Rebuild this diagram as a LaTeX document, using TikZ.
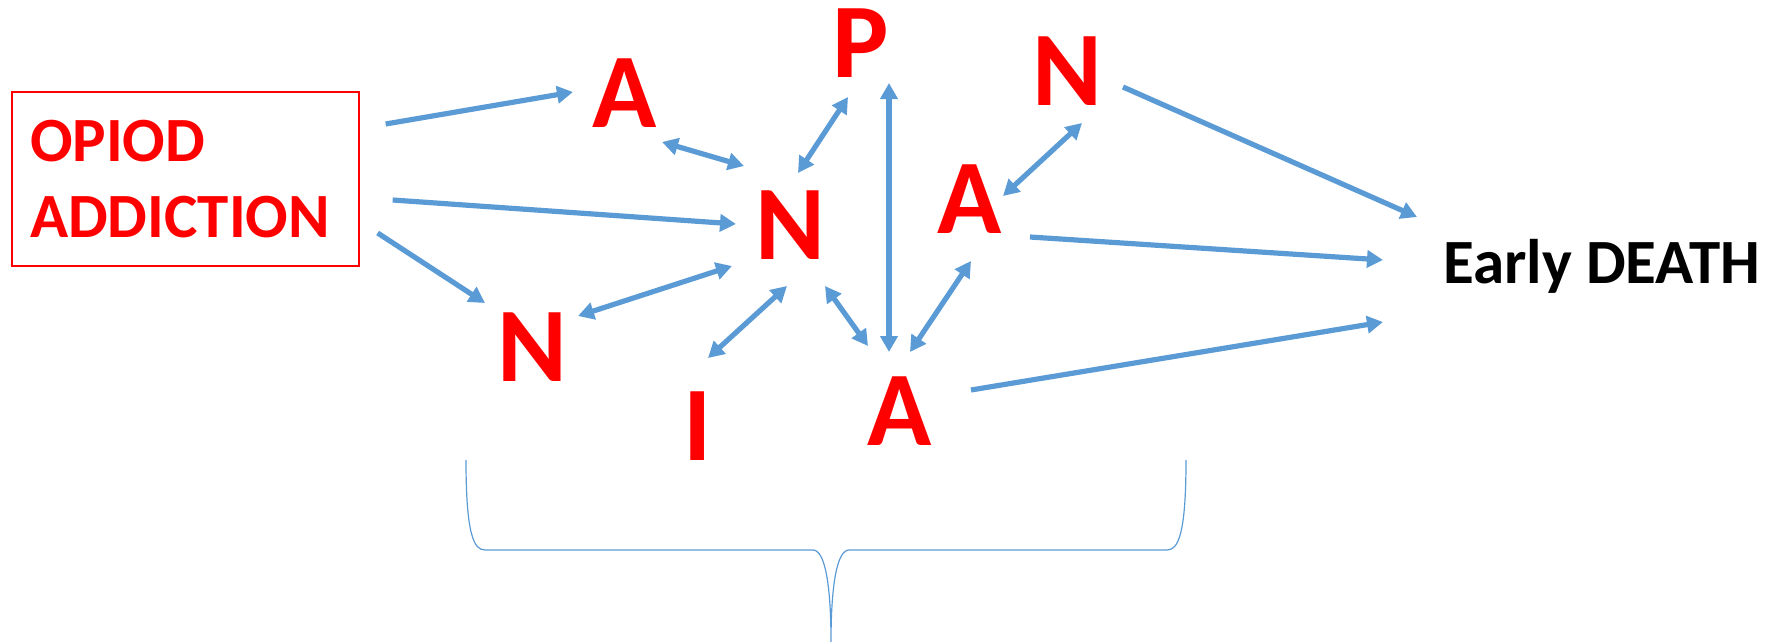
\documentclass[tikz,border=0pt]{standalone}
\usepackage{fontspec}
\setmainfont{Carlito}
\usetikzlibrary{arrows.meta,calc}
\definecolor{arrowblue}{HTML}{5B9BD5}
\definecolor{purered}{HTML}{FF0000}
\begin{document}
\begin{tikzpicture}[x=1pt,y=-1pt,
  letter/.style={text=purered, font=\fontsize{106}{106}\selectfont\bfseries, inner sep=0pt, text height=67pt, text depth=0pt},
  link/.style={draw=arrowblue, line width=5.2pt, -{Triangle[length=16pt,width=17pt]}},
  twoway/.style={link, {Triangle[length=16pt,width=17pt]}-{Triangle[length=16pt,width=17pt]}},
  bracestyle/.style={draw=arrowblue, line width=1.2pt}
]
\useasboundingbox (0,0) rectangle (1770,642);

\node[draw=purered, line width=1.3pt, minimum height=174pt, text width=311pt, inner xsep=18pt, inner ysep=0pt, align=left, text=purered, font=\fontsize{63}{76}\selectfont\bfseries] (box) at (185.5,179) {OPIOD\\ADDICTION};

\node[letter] (A1) at (625,94) {A};
\node[letter] (P) at (861,44) {P};
\node[letter] (N2) at (1067,72) {N};
\node[letter] (N1) at (790,226) {N};
\node[letter] (A2) at (970,200) {A};
\node[letter] (N3) at (532,348) {N};
\node[letter] (nI) at (698,427) {I};
\node[letter] (A3) at (900,412) {A};
\node[font=\fontsize{63}{63}\selectfont\bfseries, inner sep=0pt, text height=40pt, text depth=0pt, anchor=west] (death) at (1443,263) {Early DEATH};

\draw[link] ($(box.east)+(26,-55)$) -- ($(A1)+(-52,-2)$);
\draw[twoway] ($(A1)+(37,48)$) -- ($(N1)+(-46,-60)$);
\draw[twoway] ($(N1)+(8,-53)$) -- ($(P)+(-13,53)$);
\draw[link] ($(box.east)+(33,21)$) -- ($(N1)+(-54,-2)$);
\draw[link] ($(box.east)+(18,54)$) -- ($(N3)+(-47,-45)$);
\draw[twoway] ($(N3)+(46,-32)$) -- ($(N1)+(-58,40)$);
\draw[twoway] ($(N1)+(-3,60)$) -- ($(nI)+(10,-69)$);
\draw[twoway] ($(N1)+(35,60)$) -- ($(A3)+(-32,-66)$);
\draw[twoway] ($(P)+(28,39)$) -- ($(A3)+(-11,-60)$);
\draw[twoway] ($(A2)+(1,61)$) -- ($(A3)+(10,-60)$);
\draw[twoway] ($(N2)+(15,51)$) -- ($(A2)+(33,-4)$);
\draw[link] ($(N2)+(56,15)$) -- ($(death.west)+(-26,-46)$);
\draw[link] ($(A2)+(60,37)$) -- ($(death.west)+(-60,-3)$);
\draw[link] ($(A3)+(71,-22)$) -- ($(death.west)+(-60,59)$);

\draw[bracestyle] (466,460) .. controls (466,535) and (474,550) .. (485,550) -- (813,550) .. controls (825,550) and (831,585) .. (831,642) .. controls (831,585) and (837,550) .. (849,550) -- (1167,550) .. controls (1178,550) and (1186,535) .. (1186,460);
\end{tikzpicture}
\end{document}
